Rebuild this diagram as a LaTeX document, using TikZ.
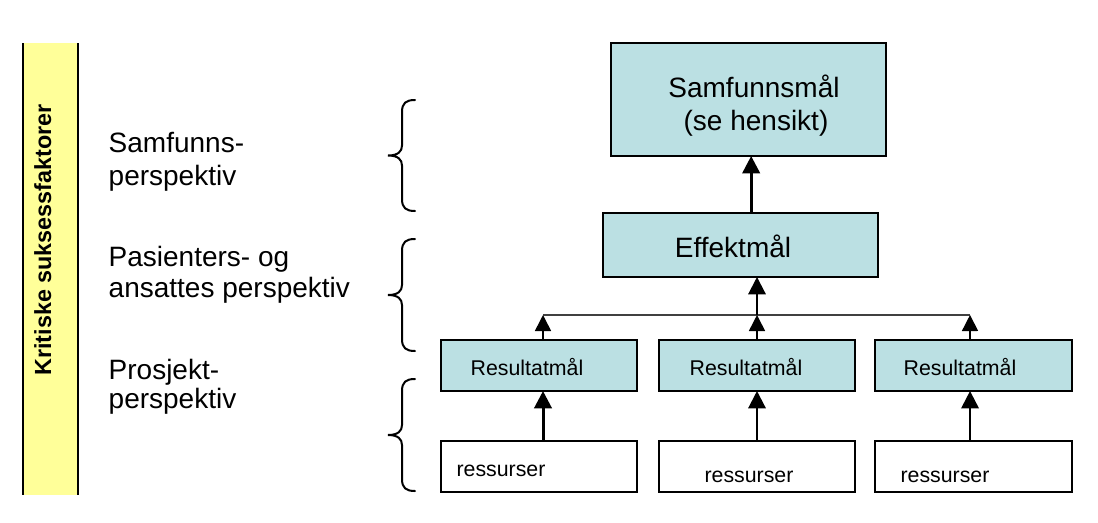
\documentclass[tikz,border=0pt]{standalone}
\usepackage{fontspec}
\setmainfont{Liberation Sans}
\usetikzlibrary{arrows.meta,calc}
\definecolor{boxfill}{HTML}{BBE0E3}
\definecolor{barfill}{HTML}{FFFF99}
\newcommand\curlybrace[2]{%
  \draw[brace] (415,#1) .. controls (406,#1) and (402,{#1+3}) .. (402,{#1+12})
    -- (402,{(#1+#2)/2-10}) .. controls (402,{(#1+#2)/2-4}) and (398,{(#1+#2)/2}) .. (388,{(#1+#2)/2})
    .. controls (398,{(#1+#2)/2}) and (402,{(#1+#2)/2+4}) .. (402,{(#1+#2)/2+10})
    -- (402,{#2-12}) .. controls (402,{#2-3}) and (406,#2) .. (415,#2);}
\begin{document}
\begin{tikzpicture}[x=0.75pt,y=-0.75pt,
  goal/.style={draw=black,line width=1.5pt,fill=boxfill,inner sep=0pt,outer sep=0pt},
  res/.style={draw=black,line width=1.5pt,fill=white,inner sep=0pt,outer sep=0pt},
  big/.style={font=\fontsize{21}{25}\selectfont,anchor=base},
  small/.style={font=\fontsize{16}{19}\selectfont,anchor=base},
  side/.style={font=\fontsize{21}{25}\selectfont,anchor=base west},
  up/.style={-{Triangle[length=13pt,width=13pt]},line width=1.6pt},
  upthin/.style={-{Triangle[length=12pt,width=12pt]},line width=1.2pt},
  brace/.style={line width=1.5pt,line cap=round}]
\useasboundingbox (0,0) rectangle (1098,522);
% yellow bar
\fill[barfill] (23,43) rectangle (78,495);
\draw[line width=1pt] (23,43) -- (23,495) (78,43) -- (78,495);
\node[rotate=90,anchor=base,font=\bfseries\fontsize{17.5}{21}\selectfont] (ksf) at (51,240) {Kritiske suksessfaktorer};
% side labels
\node[side] (t1a) at (104,152) {Samfunns-};
\node[side] (t1b) at (104,185) {perspektiv};
\node[side] (t2a) at (104,266) {Pasienters- og};
\node[side] (t2b) at (104,297) {ansattes perspektiv};
\node[side] (t3a) at (104,379) {Prosjekt-};
\node[side] (t3b) at (104,408) {perspektiv};
% braces
\curlybrace{100}{211}
\curlybrace{239}{351}
\curlybrace{379}{491}
% boxes
\node[goal,minimum width=275*0.75pt,minimum height=113*0.75pt] (S) at (748.5,99.5) {};
\node[goal,minimum width=275*0.75pt,minimum height=64*0.75pt] (E) at (740.5,245) {};
\node[goal,minimum width=196*0.75pt,minimum height=51*0.75pt] (R1) at (539,365.5) {};
\node[goal,minimum width=196*0.75pt,minimum height=51*0.75pt] (R2) at (757,365.5) {};
\node[goal,minimum width=197*0.75pt,minimum height=51*0.75pt] (R3) at (973.5,365.5) {};
\node[res,minimum width=196*0.75pt,minimum height=51*0.75pt] (Q1) at (539,466.5) {};
\node[res,minimum width=196*0.75pt,minimum height=51*0.75pt] (Q2) at (757,466.5) {};
\node[res,minimum width=197*0.75pt,minimum height=51*0.75pt] (Q3) at (973.5,466.5) {};
% box texts
\node[big] (tS1) at (754,97) {Samfunnsmål};
\node[big] (tS2) at (756,130) {(se hensikt)};
\node[big] (tE) at (733,257) {Effektmål};
\node[small] (tR1) at (527,375) {Resultatmål};
\node[small] (tR2) at (746,375) {Resultatmål};
\node[small] (tR3) at (960,375) {Resultatmål};
\node[small] (tQ1) at (501,476) {ressurser};
\node[small] (tQ2) at (749,482) {ressurser};
\node[small] (tQ3) at (945,482) {ressurser};
% connectors
\coordinate (h1) at (543,315);
\coordinate (h3) at (970,315);
\draw[line width=0.9pt,black!75] (h1) -- (h3);
\draw[upthin] ([xshift=3pt]R1.north) -- (h1);
\draw[upthin] (R2.north) -- (R2.north |- h1);
\draw[upthin] ([xshift=-2.6pt]R3.north) -- (h3);
\draw[up] (R2.north |- h1) -- (R2.north |- E.south);
\draw[up,line width=2.25pt] ([xshift=2pt]S.south |- E.north) -- ([xshift=2pt]S.south);
\draw[up,line width=2.25pt] ([xshift=3pt]Q1.north) -- ([xshift=3pt]R1.south);
\draw[up] (Q2.north) -- (R2.south);
\draw[up] ([xshift=-2.6pt]Q3.north) -- ([xshift=-2.6pt]R3.south);
\end{tikzpicture}
\end{document}
